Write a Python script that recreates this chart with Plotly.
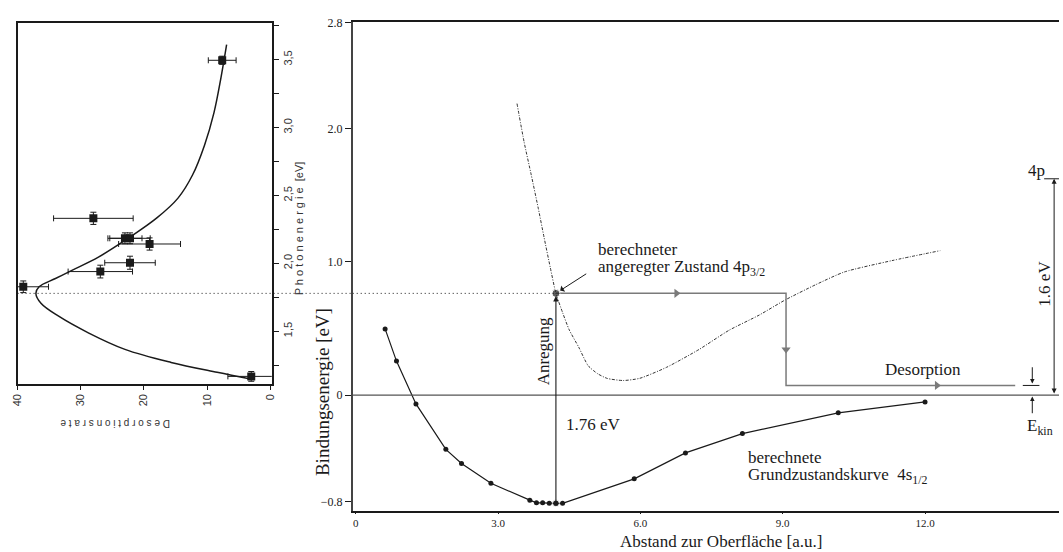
import plotly.graph_objects as go

W, H = 1063, 552

# ---------------- data: left panel (rotated desorption spectrum) ----------------
rate = [7.6, 28.0, 23.0, 22.2, 19.1, 22.2, 26.9, 39.1, 3.0]
energy = [3.495, 2.331, 2.184, 2.184, 2.142, 2.004, 1.939, 1.827, 1.167]
rate_err = [2.2, 6.3, 2.7, 3.2, 4.9, 4.0, 5.1, 4.0, 3.7]
energy_err = [0.03, 0.045, 0.04, 0.04, 0.045, 0.048, 0.047, 0.043, 0.036]

fit_energy = [3.61, 3.366, 3.11, 2.87, 2.65, 2.48, 2.336, 2.19, 2.045, 1.948,
              1.888, 1.827, 1.778, 1.706, 1.61, 1.488, 1.366, 1.27, 1.197, 1.148]
fit_rate = [6.9, 7.8, 8.9, 10.4, 12.3, 14.6, 17.9, 22.3, 27.2, 31.4,
            34.0, 36.6, 37.1, 36.3, 33.5, 28.8, 23.0, 15.7, 8.4, 3.1]

rate_ticks = [0, 10, 20, 30, 40]
rate_labels = ["0", "10", "20", "30", "40"]
energy_ticks = [1.5, 2.0, 2.5, 3.0, 3.5]
energy_labels = ["1,5", "2,0", "2,5", "3,0", "3,5"]

# ---------------- data: right panel (potential curves) ----------------
gs_x = [0.62, 0.86, 1.27, 1.90, 2.23, 2.85, 3.67, 3.81, 3.94, 4.08, 4.22, 4.36,
        5.87, 6.95, 8.15, 10.17, 12.0]
gs_y = [0.497, 0.255, -0.067, -0.408, -0.514, -0.663, -0.79, -0.81, -0.81, -0.814,
        -0.814, -0.814, -0.63, -0.435, -0.29, -0.134, -0.052]

ex_x = [3.40, 3.55, 3.70, 3.85, 3.97, 4.10, 4.22, 4.36, 4.50, 4.70, 4.90, 5.10,
        5.30, 5.64, 5.99, 6.55, 7.24, 7.87, 8.5, 9.05, 9.7, 10.3, 11.3, 12.32]
ex_y = [2.19, 1.90, 1.654, 1.40, 1.185, 0.96, 0.764, 0.62, 0.49, 0.36, 0.22, 0.16,
        0.125, 0.109, 0.126, 0.208, 0.343, 0.487, 0.60, 0.714, 0.83, 0.925, 1.01, 1.085]

exc_pt = (4.22, 0.764)        # excited point
gs_min = (4.22, -0.814)       # ground-state minimum
des_x = [4.22, 9.07, 9.07, 13.9]
des_y = [0.764, 0.764, 0.072, 0.072]
arr_x = [6.76, 9.07, 12.25]
arr_y = [0.764, 0.343, 0.072]
arr_sym = ["triangle-right", "triangle-down", "triangle-right"]

x_ticks = [0, 3, 6, 9, 12]
x_labels = ["0", "3.0", "6.0", "9.0", "12.0"]
y_ticks = [-0.8, 0, 1.0, 2.0, 2.8]
y_labels = ["\u22120.8", "0", "1.0", "2.0", "2.8"]

level_4p = 1.625
level_kin = 0.072

# ---------------- layout geometry ----------------
L_dom_x = [11.7 / W, 268.3 / W]
L_dom_y = [1 - 381.7 / H, 1 - 16.7 / H]
M_dom_x = [350 / W, 1.0]
M_dom_y = [1 - 510 / H, 1 - 15.5 / H]
M_xr = [-0.063, 14.823]
M_yr = [-0.868, 2.801]

SERIF = "Liberation Serif"
SANS = "Liberation Sans"
INK = "#1a1a1a"
GRAY = "#7a7a7a"

fig = go.Figure()

# left panel
fig.add_trace(go.Scatter(
    x=fit_rate, y=fit_energy, mode="lines",
    line=dict(color=INK, width=1.5, shape="spline", smoothing=1.0),
    xaxis="x", yaxis="y", hoverinfo="skip"))
fig.add_trace(go.Scatter(
    x=rate, y=energy, mode="markers",
    marker=dict(symbol="square", size=8, color=INK),
    error_x=dict(type="data", array=rate_err, color=INK, thickness=1, width=3),
    error_y=dict(type="data", array=energy_err, color=INK, thickness=1, width=3),
    xaxis="x", yaxis="y", cliponaxis=True))

# main panel: excited-state curve
fig.add_trace(go.Scatter(
    x=ex_x, y=ex_y, mode="lines",
    line=dict(color="#333333", width=1, dash="3px,1.5px,1px,1.5px", shape="spline", smoothing=0.6),
    xaxis="x2", yaxis="y2"))
# ground-state curve
fig.add_trace(go.Scatter(
    x=gs_x, y=gs_y, mode="lines+markers",
    line=dict(color=INK, width=1.2), marker=dict(size=5, color=INK),
    xaxis="x2", yaxis="y2"))
# dotted guide line to excited point
fig.add_trace(go.Scatter(
    x=[M_xr[0], exc_pt[0]], y=[exc_pt[1], exc_pt[1]], mode="lines",
    line=dict(color=INK, width=1, dash="1px,3px"), xaxis="x2", yaxis="y2"))
# desorption path
fig.add_trace(go.Scatter(
    x=des_x, y=des_y, mode="lines", line=dict(color=GRAY, width=1.5),
    xaxis="x2", yaxis="y2"))
fig.add_trace(go.Scatter(
    x=arr_x, y=arr_y, mode="markers",
    marker=dict(symbol=arr_sym, size=8, color=GRAY),
    xaxis="x2", yaxis="y2"))
# points
fig.add_trace(go.Scatter(
    x=[exc_pt[0], gs_min[0]], y=[exc_pt[1], gs_min[1]], mode="markers",
    marker=dict(size=[8, 7], color=INK), xaxis="x2", yaxis="y2"))
# E_kin level marker and 4p level marker
fig.add_trace(go.Scatter(
    x=[14.06, 14.41], y=[level_kin, level_kin], mode="lines",
    line=dict(color=INK, width=1), xaxis="x2", yaxis="y2"))
fig.add_trace(go.Scatter(
    x=[14.51, M_xr[1]], y=[level_4p, level_4p], mode="lines",
    line=dict(color=INK, width=1), xaxis="x2", yaxis="y2", cliponaxis=False))

shapes = [
    # zero line
    dict(type="line", xref="x2 domain", x0=0, x1=1, yref="y2", y0=0, y1=0,
         line=dict(color="#555555", width=1.3)),
    # dotted line across the gap from the left panel
    dict(type="line", xref="paper", x0=L_dom_x[0], x1=M_dom_x[0], yref="y2",
         y0=exc_pt[1], y1=exc_pt[1], line=dict(color=INK, width=1, dash="1px,3px")),
]

ann = []
def txt(x, y, s, size=17, ref=("x2", "y2"), angle=0, xa="center", ya="middle", font=SERIF, color=INK):
    ann.append(dict(x=x, y=y, xref=ref[0], yref=ref[1], text=s, showarrow=False,
                    textangle=angle, xanchor=xa, yanchor=ya,
                    font=dict(family=font, size=size, color=color)))

def arrow(x, y, ax, ay, side="end", head=2, size=1.0, width=1.1):
    ann.append(dict(x=x, y=y, ax=ax, ay=ay, xref="x2", yref="y2", axref="x2", ayref="y2",
                    text="", showarrow=True, arrowhead=head, startarrowhead=head,
                    arrowside=side, arrowsize=size, arrowwidth=width, arrowcolor=INK))

# arrows
arrow(exc_pt[0], exc_pt[1] - 0.02, gs_min[0], gs_min[1])
arrow(4.31, 0.785, 4.89, 0.918, head=1, size=1.2, width=1)
arrow(14.72, level_4p, 14.72, 0.0, side="end+start", head=2, size=1.0, width=1)
arrow(14.26, 0.086, 14.26, 0.22, head=2, size=0.9, width=1)
arrow(14.26, -0.012, 14.26, -0.148, head=2, size=0.9, width=1)

# texts in main panel
txt(3.96, 0.325, "Anregung", angle=-90)
txt(4.4, -0.22, "1.76 eV", xa="left")
txt(5.07, 1.095, "berechneter", xa="left")
txt(5.07, 0.955, "angeregter Zustand 4p<sub>3/2</sub>", xa="left")
txt(8.22, -0.466, "berechnete", xa="left")
txt(8.22, -0.61, "Grundzustandskurve  4s<sub>1/2</sub>", xa="left")
txt(11.95, 0.19, "Desorption")
txt(14.34, 1.69, "4p")
txt(14.51, 0.838, "1.6 eV", angle=-90)
txt(14.43, -0.24, "E<sub>kin</sub>")

# axis titles
txt(722.5 / W, 1 - 541.5 / H, "Abstand zur Oberfläche [a.u.]", size=17, ref=("paper", "paper"))
txt(319 / W, 1 - 390 / H, "Bindungsenergie [eV]", size=19, ref=("paper", "paper"), angle=-90)
txt(296 / W, 1 - 224 / H, "P h o t o n e n e r g i e  [eV]", size=11, ref=("paper", "paper"),
    angle=-90, font=SANS, color="#333333")
txt(110 / W, 1 - 422 / H, "D e s o r p t i o n s r a t e", size=10, ref=("paper", "paper"),
    angle=180, font=SANS, color="#333333")

fig.update_layout(
    width=W, height=H, autosize=False,
    margin=dict(l=0, r=0, t=0, b=0),
    paper_bgcolor="white", plot_bgcolor="white",
    showlegend=False,
    shapes=shapes, annotations=ann,
    xaxis=dict(domain=L_dom_x, range=[40, -0.25], anchor="y",
               showline=True, mirror=True, linecolor=INK, linewidth=1.5,
               ticks="outside", ticklen=4, tickcolor=INK, tickvals=rate_ticks, ticktext=rate_labels,
               tickangle=-90, tickfont=dict(family=SANS, size=11, color="#333333"),
               showgrid=False, zeroline=False),
    yaxis=dict(domain=L_dom_y, range=[1.112, 3.766], anchor="x", side="right",
               showline=True, mirror=True, linecolor=INK, linewidth=1.5,
               ticks="outside", ticklen=5, tickcolor=INK, tickvals=energy_ticks, ticktext=energy_labels,
               tickangle=-90, tickfont=dict(family=SANS, size=11, color="#333333"),
               minor=dict(tickvals=[1.25, 1.75, 2.25, 2.75, 3.25, 3.75], ticklen=5, ticks="outside", tickcolor=INK),
               showgrid=False, zeroline=False),
    xaxis2=dict(domain=M_dom_x, range=M_xr, anchor="y2",
                showline=True, mirror=True, linecolor=INK, linewidth=1.5,
                ticks="outside", ticklen=2, tickcolor=INK, tickvals=x_ticks, ticktext=x_labels,
                tickfont=dict(family=SERIF, size=11, color="#222222"),
                showgrid=False, zeroline=False),
    yaxis2=dict(domain=M_dom_y, range=M_yr, anchor="x2",
                showline=True, linecolor="#444444", linewidth=1.5,
                ticks="outside", ticklen=6, tickcolor=INK, tickvals=y_ticks, ticktext=y_labels,
                tickfont=dict(family=SERIF, size=12, color="#222222"),
                showgrid=False, zeroline=False),
)

fig.write_html("out.html")
